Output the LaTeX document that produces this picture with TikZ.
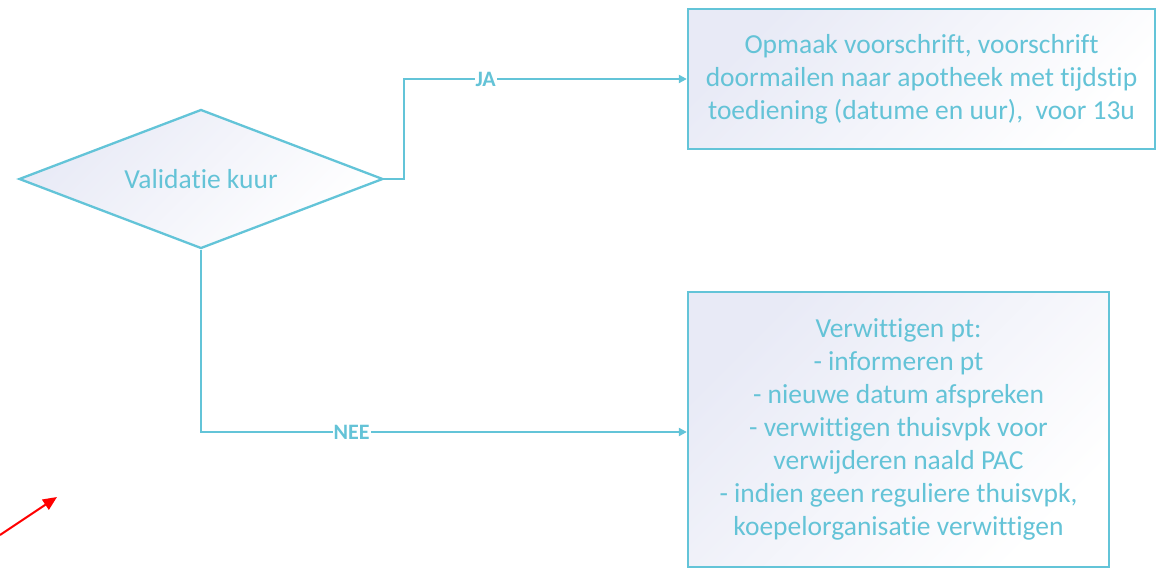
\documentclass[tikz,border=0pt]{standalone}
\usepackage{fontspec}
\setmainfont[Ligatures={NoCommon}]{Carlito}
\usetikzlibrary{shapes.geometric,arrows.meta}
\definecolor{ln}{RGB}{99,196,216}
\definecolor{tx}{RGB}{100,195,215}
\definecolor{lav}{RGB}{232,234,246}
\begin{document}
\begin{tikzpicture}[x=1pt,y=-1pt,
  shapebase/.style={draw=ln, line width=2.3pt, inner sep=0pt, text=tx,
    top color=lav, bottom color=white, shading angle=45,
    font=\fontsize{27.5}{33}\selectfont, align=center},
  boxnode/.style={shapebase, rectangle},
  decnode/.style={shapebase, diamond, shape aspect=2.6},
  conn/.style={draw=ln, line width=2.3pt, -{Triangle[length=8pt,width=8pt]}},
  lab/.style={fill=white, text=tx, font=\bfseries\fontsize{22}{22}\selectfont, inner sep=1pt}]
\useasboundingbox (0,0) rectangle (1159,569);
\node[decnode, minimum width=364pt, minimum height=139pt] (d) at (201,179) {Validatie kuur};
\node[boxnode, minimum width=467pt, minimum height=140pt] (a) at (921.5,79)
  {Opmaak voorschrift, voorschrift\\doormailen naar apotheek met tijdstip\\toediening (datume en uur),\ \ voor 13u};
\node[boxnode, minimum width=421pt, minimum height=275pt] (b) at (898.5,429.5)
  {Verwittigen pt:\\- informeren pt\\- nieuwe datum afspreken\\- verwittigen thuisvpk voor\\verwijderen naald PAC\\- indien geen reguliere thuisvpk,\\koepelorganisatie verwittigen};
\draw[conn] (d.east) -- ++(20,0) |- (a.west) node[lab, pos=0.644] {JA};
\draw[conn] (d.south) |- ([yshift=-2.5pt]b.west) node[lab, pos=0.655] {NEE};
\coordinate (r0) at (0,535);
\coordinate (r1) at (57,497);
\draw[red, line width=2pt, -{Triangle[length=14pt,width=12pt]}] (r0) -- (r1);
\end{tikzpicture}
\end{document}
